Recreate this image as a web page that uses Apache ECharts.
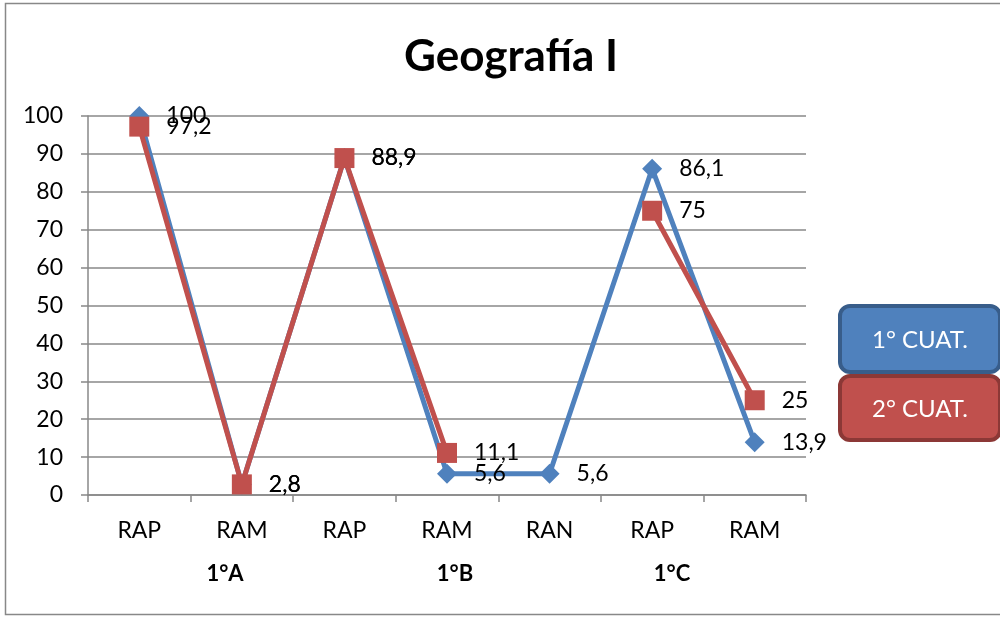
<!DOCTYPE html>
<html><head><meta charset="utf-8">
<script src="https://cdn.jsdelivr.net/npm/echarts@6/dist/echarts.min.js"></script>
<style>html,body{margin:0;padding:0;background:#fff}#c{width:1000px;height:618px}</style>
</head><body><div id="c"></div>
<script>
const categories = ['RAP','RAM','RAP','RAM','RAN','RAP','RAM'];
const groups = ['1°A','1°B','1°C'];
const cuat1 = [100, 2.8, 88.9, 5.6, 5.6, 86.1, 13.9];
const cuat2 = [97.2, 2.8, 88.9, 11.1, null, 75, 25];
const seriesNames = ['1° CUAT.', '2° CUAT.'];
const yTicks = [0,10,20,30,40,50,60,70,80,90,100];

const FONT = 'Lato, "Open Sans", sans-serif';
const chart = echarts.init(document.getElementById('c'), null, {renderer:'canvas'});
const fmt = p => String(p.value).replace('.', ',');
const labelCfg = {show:true, position:'right', distance:17, color:'#000', fontSize:23, fontFamily:FONT, formatter:fmt};

chart.setOption({
  animation:false,
  title:{text:'Geografía I', left:506, top:30, textAlign:'center',
    textStyle:{fontSize:44, fontWeight:'bold', color:'#000', fontFamily:FONT}},
  grid:{left:88, right:194, top:116, bottom:123, containLabel:false},
  xAxis:{type:'category', data:categories, boundaryGap:true,
    axisLine:{lineStyle:{color:'#888', width:1.5}},
    axisTick:{show:true, length:7, interval:0, lineStyle:{color:'#888', width:1.5}},
    axisLabel:{color:'#000', fontSize:23, fontFamily:FONT, margin:24, interval:0}},
  yAxis:{type:'value', min:0, max:100, interval:10,
    axisLine:{show:true, lineStyle:{color:'#888', width:1.5}},
    axisTick:{show:true, length:7, lineStyle:{color:'#888', width:1.5}},
    axisLabel:{color:'#000', fontSize:23, fontFamily:FONT, margin:25, formatter:v=>yTicks.includes(v)?String(v):''},
    splitLine:{lineStyle:{color:'#888', width:1.5}}},
  series:[
    {name:seriesNames[0], type:'line', data:cuat1, connectNulls:false, z:2,
     lineStyle:{color:'#4F81BD', width:5}, itemStyle:{color:'#4F81BD'},
     symbol:'diamond', symbolSize:[20,20], label:labelCfg},
    {name:seriesNames[1], type:'line', data:cuat2, connectNulls:false, z:3,
     lineStyle:{color:'#C0504D', width:5}, itemStyle:{color:'#C0504D'},
     symbol:'rect', symbolSize:20, label:labelCfg}
  ],
  graphic:[
    {type:'rect', shape:{x:5.5, y:3.5, width:1000, height:611}, style:{fill:null, stroke:'#888', lineWidth:1.5}, z:-10},
    {type:'text', x:225, y:574, style:{text:groups[0], fontSize:22, fontWeight:'bold', fontFamily:FONT, fill:'#000', align:'center', verticalAlign:'middle'}},
    {type:'text', x:455, y:574, style:{text:groups[1], fontSize:22, fontWeight:'bold', fontFamily:FONT, fill:'#000', align:'center', verticalAlign:'middle'}},
    {type:'text', x:672, y:574, style:{text:groups[2], fontSize:22, fontWeight:'bold', fontFamily:FONT, fill:'#000', align:'center', verticalAlign:'middle'}},
    {type:'rect', shape:{x:840, y:306, width:160, height:66, r:10}, style:{fill:'#4F81BD', stroke:'#385D8A', lineWidth:4}, z:10},
    {type:'text', x:920, y:340, style:{text:seriesNames[0], fontSize:24, fontFamily:FONT, fill:'#fff', align:'center', verticalAlign:'middle'}, z:11},
    {type:'rect', shape:{x:840, y:376, width:160, height:64, r:10}, style:{fill:'#C0504D', stroke:'#8C3836', lineWidth:4}, z:10},
    {type:'text', x:920, y:409, style:{text:seriesNames[1], fontSize:24, fontFamily:FONT, fill:'#fff', align:'center', verticalAlign:'middle'}, z:11}
  ]
});
</script></body></html>
